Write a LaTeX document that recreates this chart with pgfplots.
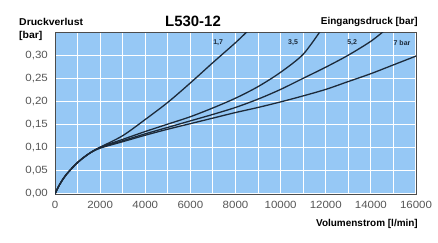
\documentclass[border=0pt]{standalone}
\usepackage{fontspec}
\setmainfont{Liberation Sans}
\usepackage{pgfplots}
\pgfplotsset{compat=1.18}
\definecolor{bgblue}{HTML}{96C8F5}
\definecolor{curve}{HTML}{1C2A3A}
\definecolor{ticktext}{HTML}{555555}
\tikzset{crv/.style={draw=curve, line width=1.3bp, smooth, mark=none}}
\begin{document}
\begin{tikzpicture}[x=1bp,y=1bp]
\path[use as bounding box] (0,0) rectangle (438,242);
\begin{axis}[
  at={(55bp,48bp)}, anchor=south west,
  scale only axis, width=361bp, height=162bp,
  xmin=0, xmax=16000, ymin=0, ymax=0.35,
  xtick={0,2000,...,16000},
  minor xtick={1000,3000,...,15000},
  ytick={0,0.05,...,0.30},
  minor ytick={},
  scaled x ticks=false, scaled y ticks=false,
  grid=both,
  major grid style={white, line width=1.1bp},
  minor grid style={white, line width=1.1bp},
  major tick length=0pt, minor tick length=0pt,
  axis line style={draw=black!70, line width=1bp},
  axis background/.style={fill=bgblue},
  tick label style={font=\fontsize{10.5}{12}\selectfont, text=ticktext, xscale=1.1},
  /pgf/number format/assume math mode=true,
  x tick label style={/pgf/number format/1000 sep={}, yshift=-4bp},
  y tick label style={/pgf/number format/use comma, /pgf/number format/fixed, /pgf/number format/fixed zerofill, /pgf/number format/precision=2, xshift=-3bp},
  clip=true,
]
% 1,7 bar
\addplot[crv] coordinates {(0,0) (200,0.02) (500,0.042) (1000,0.068) (1500,0.087) (2000,0.101) (3000,0.126) (4000,0.161) (5000,0.198) (6000,0.240) (7000,0.284) (8000,0.327) (8600,0.355)};
% 3,5 bar
\addplot[crv] coordinates {(0,0) (200,0.02) (500,0.042) (1000,0.068) (1500,0.087) (2000,0.101) (3000,0.118) (4000,0.135) (5000,0.151) (6000,0.167) (7000,0.186) (8000,0.207) (9000,0.232) (10000,0.263) (11000,0.302) (11800,0.355)};
% 5,2 bar
\addplot[crv] coordinates {(0,0) (200,0.02) (500,0.042) (1000,0.068) (1500,0.087) (2000,0.100) (3000,0.115) (4000,0.130) (5000,0.144) (6000,0.158) (7000,0.172) (8000,0.187) (9000,0.205) (10000,0.226) (11000,0.250) (12000,0.274) (13000,0.300) (14000,0.330) (14650,0.355)};
% 7 bar
\addplot[crv] coordinates {(0,0) (200,0.02) (500,0.042) (1000,0.068) (1500,0.087) (2000,0.099) (3000,0.113) (4000,0.127) (5000,0.140) (6000,0.152) (7000,0.164) (8000,0.176) (9000,0.187) (10000,0.199) (11000,0.212) (12000,0.226) (13000,0.243) (14000,0.260) (15000,0.279) (16000,0.298)};
\node[font=\bfseries\fontsize{7}{8}\selectfont, text=curve] at (axis cs:7230,0.327) {1,7};
\node[font=\bfseries\fontsize{7}{8}\selectfont, text=curve] at (axis cs:10550,0.327) {3,5};
\node[font=\bfseries\fontsize{7}{8}\selectfont, text=curve] at (axis cs:13170,0.327) {5,2};
\node[font=\bfseries\fontsize{7}{8}\selectfont, text=curve] at (axis cs:15380,0.327) {7 bar};
\end{axis}
\node[anchor=west, font=\bfseries\fontsize{10}{12}\selectfont, inner sep=0pt, xscale=1.05] at (19,220) {Druckverlust};
\node[anchor=west, font=\bfseries\fontsize{10}{12}\selectfont, inner sep=0pt, xscale=1.05] at (19,206) {[bar]};
\node[font=\bfseries\fontsize{15}{18}\selectfont, inner sep=0pt] at (193,221) {L530-12};
\node[anchor=east, font=\bfseries\fontsize{10}{12}\selectfont, inner sep=0pt] at (418,220) {Eingangsdruck [bar]};
\node[anchor=east, font=\bfseries\fontsize{10}{12}\selectfont, inner sep=0pt] at (418,18) {Volumenstrom [l/min]};
\end{tikzpicture}
\end{document}
